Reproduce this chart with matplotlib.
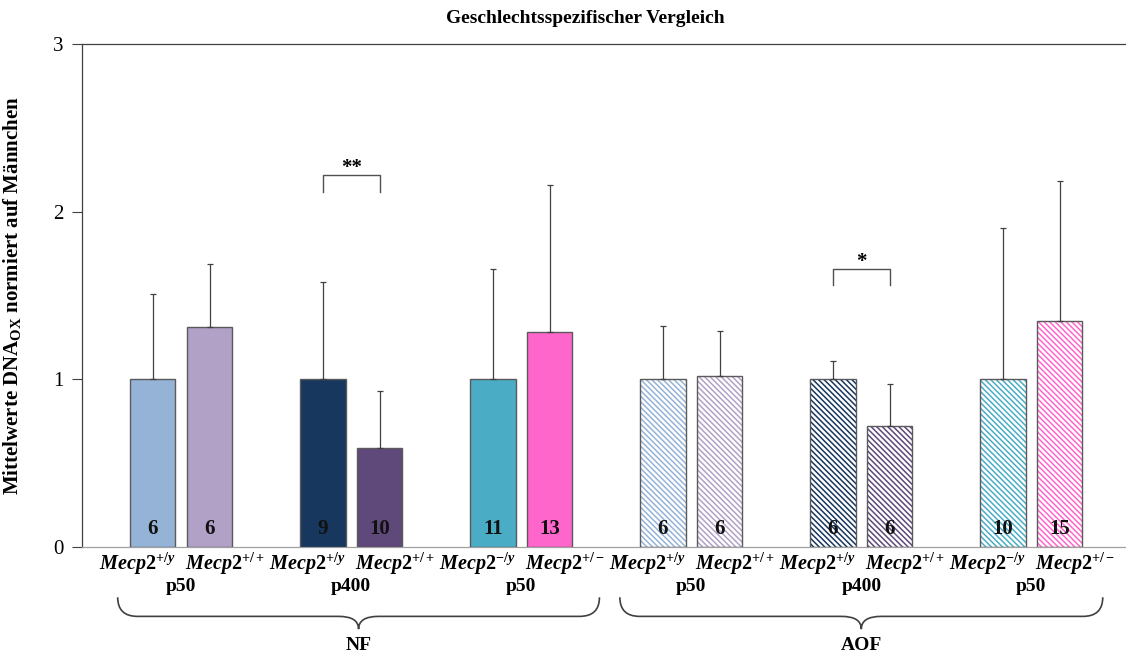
import matplotlib
matplotlib.use("Agg")
import matplotlib.pyplot as plt
import numpy as np
from matplotlib.path import Path
from matplotlib.patches import PathPatch

# ---- data ----
genotypes = ["+/y", "+/+", "+/y", "+/+", "-/y", "+/-",
             "+/y", "+/+", "+/y", "+/+", "-/y", "+/-"]
ages = ["p50", "p400", "p50", "p50", "p400", "p50"]
groups = ["NF", "AOF"]
means = [1.0, 1.31, 1.0, 0.59, 1.0, 1.28,
         1.0, 1.02, 1.0, 0.72, 1.0, 1.35]
err_top = [1.51, 1.69, 1.58, 0.93, 1.66, 2.16,
           1.32, 1.29, 1.11, 0.97, 1.90, 2.18]
counts = [6, 6, 9, 10, 11, 13, 6, 6, 6, 6, 10, 15]
colors = ["#95B3D7", "#B2A1C7", "#17375E", "#5F497A", "#4BACC6", "#FF66CC"] * 2
hatched = [False] * 6 + [True] * 6
sig = [(2, 3, "**", 2.22), (8, 9, "*", 1.66)]

plt.rcParams['font.family'] = ['Liberation Serif', 'DejaVu Serif']
plt.rcParams['mathtext.fontset'] = 'custom'
plt.rcParams['mathtext.rm'] = 'Liberation Serif:bold'
plt.rcParams['mathtext.it'] = 'Liberation Serif:italic:bold'
plt.rcParams['mathtext.bf'] = 'Liberation Serif:bold'
plt.rcParams['hatch.linewidth'] = 1.1

fig = plt.figure(figsize=(11.26, 6.61), dpi=100)
ax = fig.add_axes([0.0728, 0.1725, 0.9272, 0.7609])

pos = np.array([3 * (i // 2) + (i % 2) for i in range(len(means))], dtype=float)
err = np.array(err_top) - np.array(means)

for i in range(len(means)):
    if hatched[i]:
        ax.bar(pos[i], means[i], width=0.8, color="white", edgecolor=colors[i],
               hatch="\\\\\\\\\\\\", linewidth=0, zorder=2)
        ax.bar(pos[i], means[i], width=0.8, fill=False, edgecolor="#5a5a5a",
               linewidth=1.0, zorder=3)
    else:
        ax.bar(pos[i], means[i], width=0.8, color=colors[i], edgecolor="#5a5a5a",
               linewidth=1.0, zorder=3)
    ax.errorbar(pos[i], means[i], yerr=[[0], [err[i]]], fmt="none",
                ecolor="#404040", elinewidth=0.9, capsize=2, capthick=0.9, zorder=4)
    ax.text(pos[i], 0.05, str(counts[i]), ha="center", va="bottom",
            fontsize=15, fontweight="bold", color="#111111", zorder=5)

# significance brackets
for a, b, s, y in sig:
    ax.plot([pos[a], pos[a], pos[b], pos[b]], [y - 0.1, y, y, y - 0.1],
            color="#505050", lw=1.0, zorder=4)
    ax.text((pos[a] + pos[b]) / 2, y - 0.02, s, ha="center", va="bottom",
            fontsize=15, fontweight="bold")

ax.set_xlim(-1.25, 17.17)
ax.set_ylim(0, 3)
ax.set_yticks([0, 1, 2, 3])
ax.tick_params(axis="y", direction="out", length=7, width=0.8, labelsize=15,
               color="#404040", pad=6)
ax.set_xticks([])
ax.spines["right"].set_visible(False)
ax.spines["top"].set_color("#404040")
ax.spines["left"].set_color("#404040")
ax.spines["bottom"].set_color("#a0a0a0")
for sp in ax.spines.values():
    sp.set_linewidth(0.9)

ax.set_ylabel("Mittelwerte DNA$_{\\mathbf{OX}}$ normiert auf Männchen",
              fontsize=15, fontweight="bold", labelpad=22)

# x labels: spread outward from pair centre
for i in range(len(means)):
    g = genotypes[i].replace("-", "\u2212")
    xc = 3 * (i // 2) + 0.5 + (-0.77 if i % 2 == 0 else 0.77)
    ax.text(xc, -0.1, "$Mecp2^{" + g + "}$", ha="center",
            va="center", fontsize=14.5, clip_on=False)
for k, age in enumerate(ages):
    ax.text(3 * k + 0.5, -0.235, age, ha="center", va="center",
            fontsize=14, fontweight="bold", clip_on=False)


def brace(x0, x1, xc, ytop, ybot):
    ym = ytop - 0.6 * (ytop - ybot)
    r = 0.35
    verts = [(x0, ytop), (x0, ym), (x0 + r, ym), (xc - r, ym), (xc, ym), (xc, ybot),
             (xc, ym), (xc + r, ym), (x1 - r, ym), (x1, ym), (x1, ytop)]
    codes = [Path.MOVETO, Path.CURVE3, Path.CURVE3, Path.LINETO, Path.CURVE3, Path.CURVE3,
             Path.CURVE3, Path.CURVE3, Path.LINETO, Path.CURVE3, Path.CURVE3]
    ax.add_patch(PathPatch(Path(verts, codes), fill=False, lw=1.2,
                           edgecolor="#404040", clip_on=False))


brace(-0.62, 7.88, 3.63, -0.30, -0.49)
brace(8.24, 16.76, 12.5, -0.30, -0.49)
ax.text(3.63, -0.585, groups[0], ha="center", va="center", fontsize=14,
        fontweight="bold", clip_on=False)
ax.text(12.5, -0.585, groups[1], ha="center", va="center", fontsize=14,
        fontweight="bold", clip_on=False)

fig.text(0.52, 0.972, "Geschlechtsspezifischer Vergleich", ha="center", va="center",
         fontsize=14, fontweight="bold")

fig.savefig("out.png", dpi=100)
